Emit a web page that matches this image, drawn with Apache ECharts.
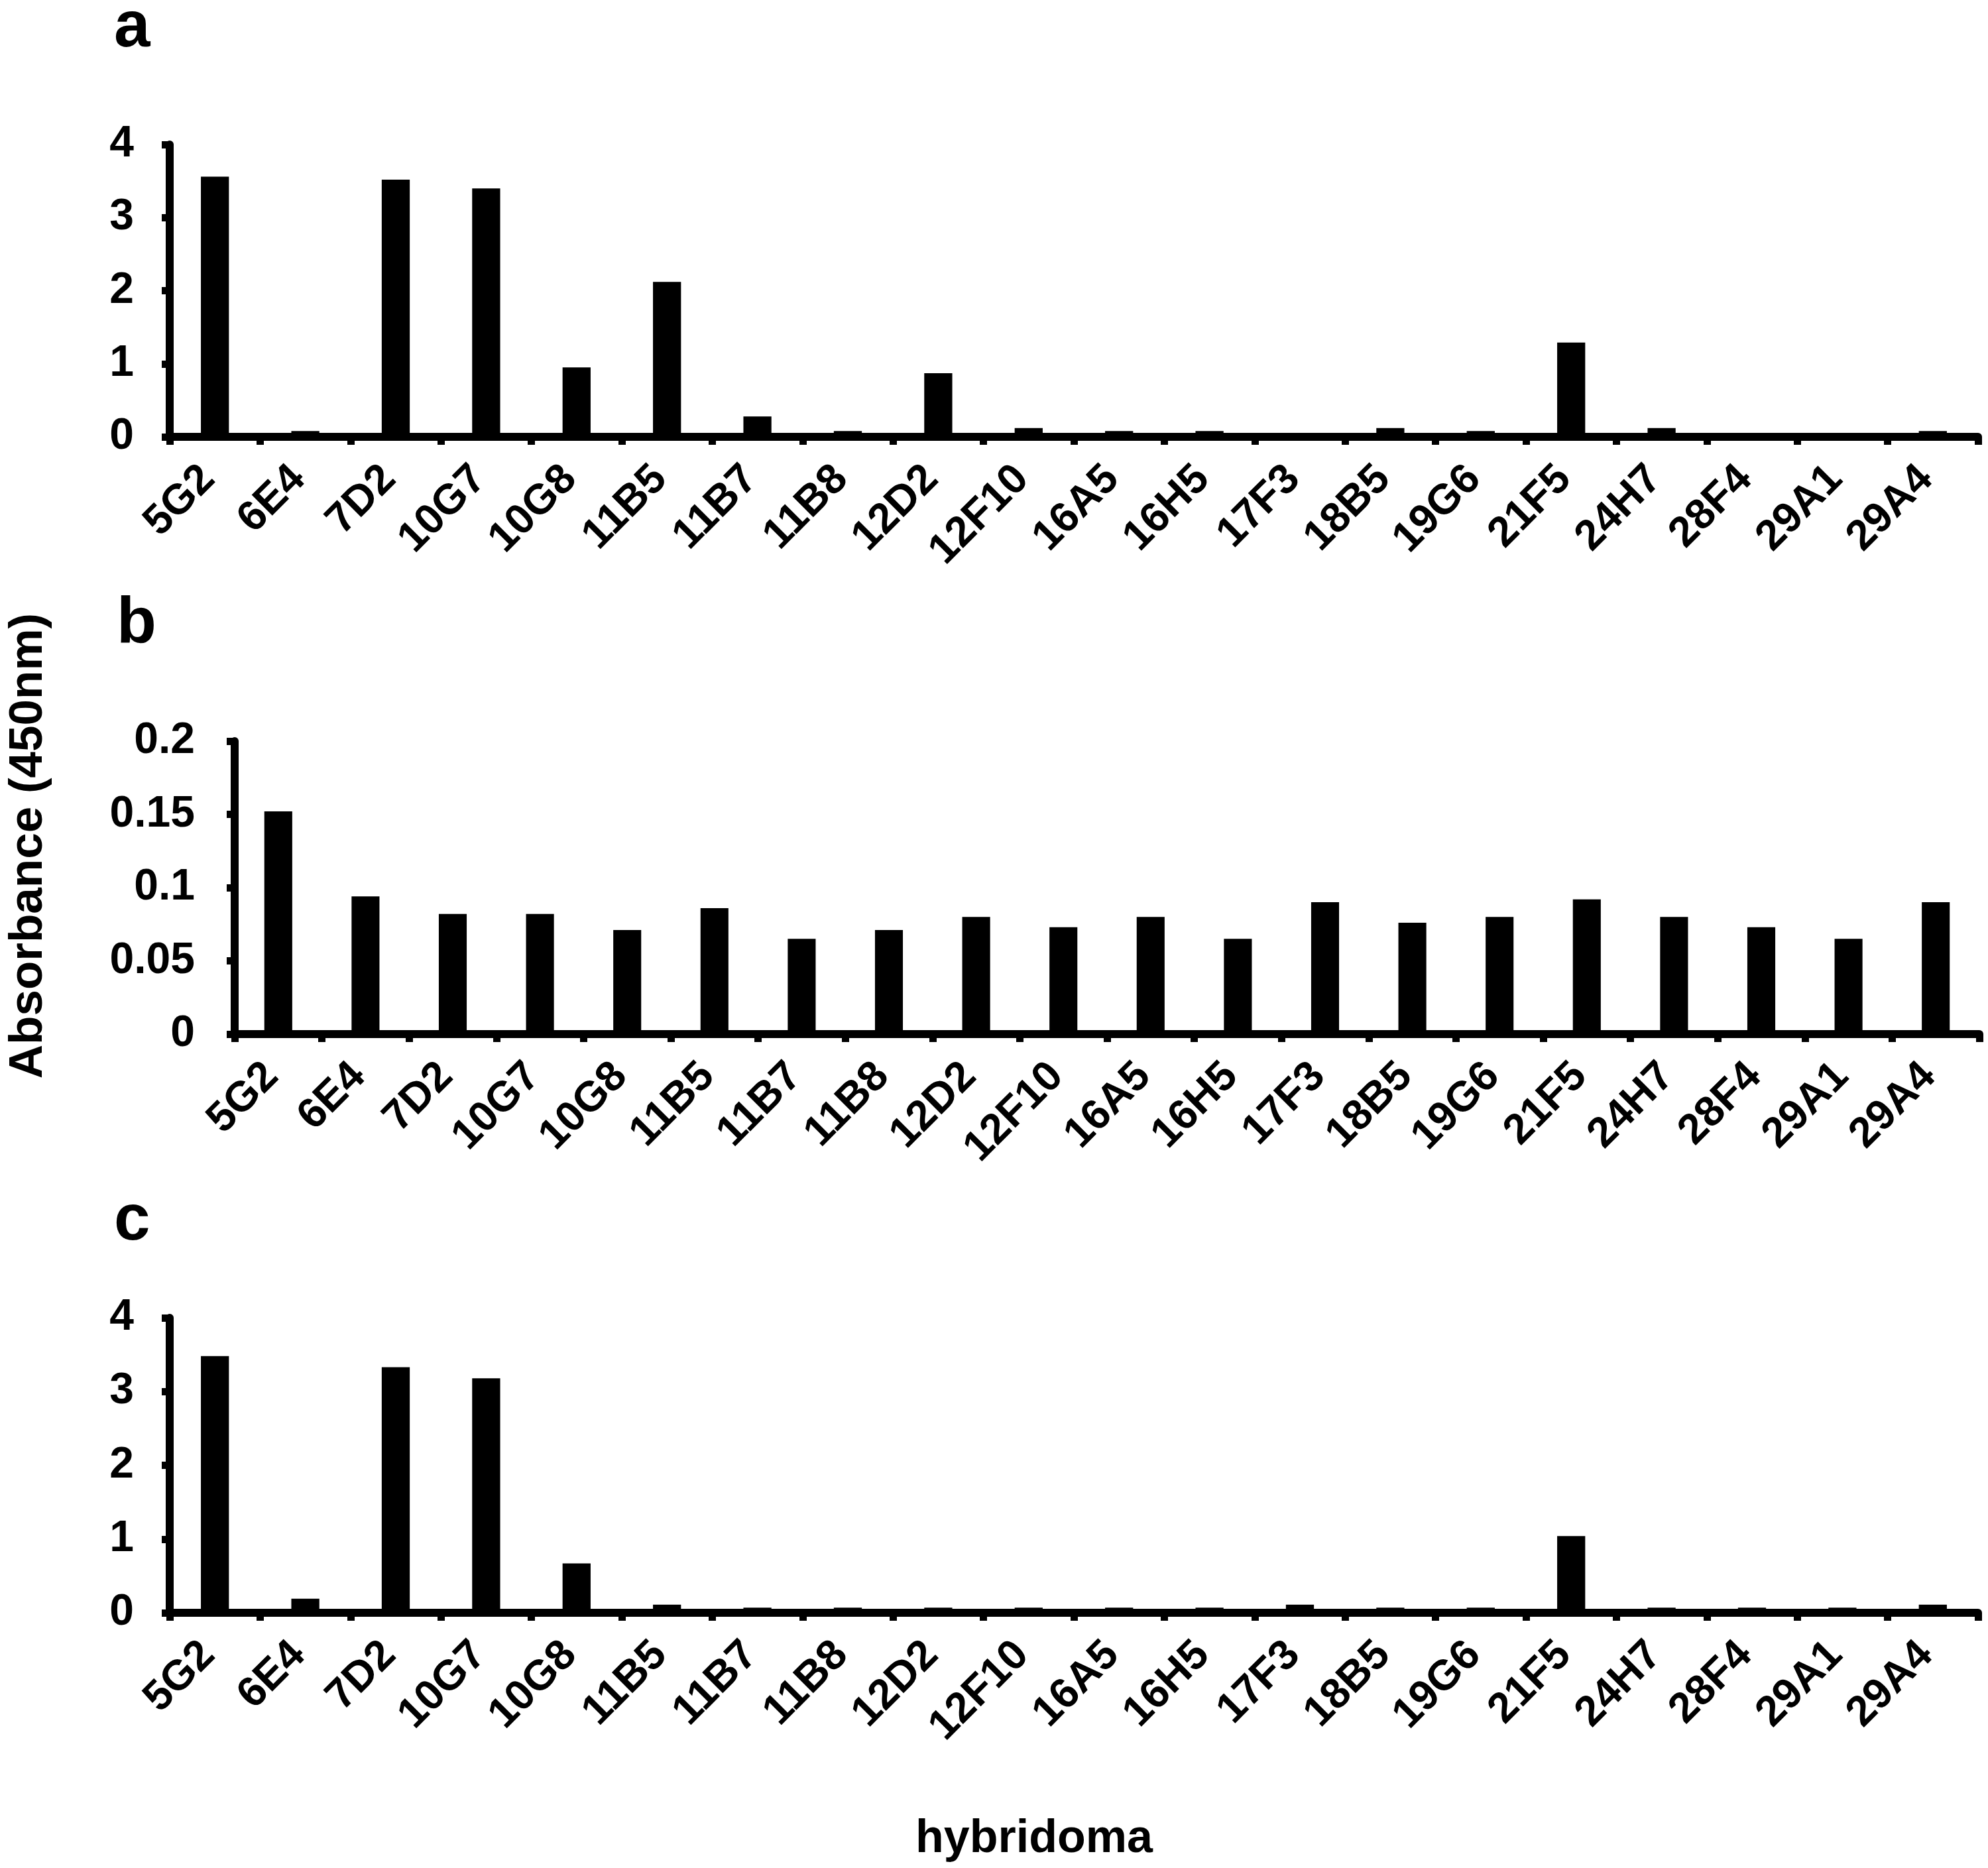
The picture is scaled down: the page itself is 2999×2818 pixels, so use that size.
<!DOCTYPE html>
<html>
<head>
<meta charset="utf-8">
<script src="https://cdn.jsdelivr.net/npm/echarts@6/dist/echarts.min.js"></script>
<style>
html,body{margin:0;padding:0;background:#fff;}
#chart{width:2999px;height:2818px;}
</style>
</head>
<body>
<div id="chart"></div>
<script>
var categories = ['5G2','6E4','7D2','10G7','10G8','11B5','11B7','11B8','12D2','12F10','16A5','16H5','17F3','18B5','19G6','21F5','24H7','28F4','29A1','29A4'];
var panelA = [3.56, 0.08, 3.52, 3.40, 0.95, 2.12, 0.28, 0.08, 0.87, 0.12, 0.08, 0.08, 0.03, 0.12, 0.08, 1.29, 0.12, 0.03, 0.03, 0.08];
var panelB = [0.152, 0.094, 0.082, 0.082, 0.071, 0.086, 0.065, 0.071, 0.080, 0.073, 0.080, 0.065, 0.090, 0.076, 0.080, 0.092, 0.080, 0.073, 0.065, 0.090];
var panelC = [3.48, 0.19, 3.33, 3.18, 0.67, 0.11, 0.07, 0.07, 0.07, 0.07, 0.07, 0.07, 0.11, 0.07, 0.07, 1.04, 0.07, 0.07, 0.07, 0.11];
var panelLetters = ['a', 'b', 'c'];
var yTitle = 'Absorbance (450nm)';
var xTitle = 'hybridoma';

var FONT = '"Liberation Sans", Arial, Helvetica, sans-serif';
var chart = echarts.init(document.getElementById('chart'), null, {renderer: 'canvas'});

function xAxisCfg(gridIndex) {
  return {
    type: 'category', gridIndex: gridIndex, data: categories, boundaryGap: true,
    axisLine: {show: true, lineStyle: {color: '#000', width: 12}},
    axisTick: {show: true, inside: false, length: 12, lineStyle: {color: '#000', width: 11}, interval: 0},
    axisLabel: {interval: 0, rotate: 45, margin: 44, padding: [0, 14, 0, 0], color: '#000', fontSize: 64, fontWeight: 'bold', fontFamily: FONT},
    splitLine: {show: false}
  };
}
function yAxisCfg(gridIndex, max, interval, margin) {
  return {
    type: 'value', gridIndex: gridIndex, min: 0, max: max, interval: interval,
    axisLine: {show: true, lineStyle: {color: '#000', width: 12}},
    axisTick: {show: true, inside: false, length: 12, lineStyle: {color: '#000', width: 11}},
    axisLabel: {margin: margin, color: '#000', fontSize: 66, fontWeight: 'bold', fontFamily: FONT, padding: [0, 0, 16, 0]},
    splitLine: {show: false}
  };
}
function barCfg(idx, data, w) {
  return {
    type: 'bar', xAxisIndex: idx, yAxisIndex: idx, data: data, barWidth: w,
    itemStyle: {color: '#000'}, animation: false, z: 1
  };
}

var option = {
  backgroundColor: '#fff',
  animation: false,
  grid: [
    {left: 256, top: 218, width: 2728, height: 441},
    {left: 354, top: 1118, width: 2632, height: 442},
    {left: 256, top: 1988, width: 2728, height: 445}
  ],
  xAxis: [xAxisCfg(0), xAxisCfg(1), xAxisCfg(2)],
  yAxis: [yAxisCfg(0, 4, 1, 54), yAxisCfg(1, 0.2, 0.05, 60), yAxisCfg(2, 4, 1, 54)],
  series: [barCfg(0, panelA, '31%'), barCfg(1, panelB, '32%'), barCfg(2, panelC, '31%')],
  graphic: [
    {type: 'text', left: 172, top: -6, style: {text: panelLetters[0], font: 'bold 98px ' + FONT, fill: '#000'}},
    {type: 'text', left: 176, top: 893, style: {text: panelLetters[1], font: 'bold 98px ' + FONT, fill: '#000'}},
    {type: 'text', left: 172, top: 1794, style: {text: panelLetters[2], font: 'bold 98px ' + FONT, fill: '#000'}},
    {type: 'text', x: 43, y: 1276, rotation: Math.PI / 2,
     style: {text: yTitle, font: 'bold 71px ' + FONT, fill: '#000', textAlign: 'center', textVerticalAlign: 'middle'}},
    {type: 'text', x: 1560, y: 2775,
     style: {text: xTitle, font: 'bold 70px ' + FONT, fill: '#000', textAlign: 'center', textVerticalAlign: 'middle'}}
  ]
};
chart.setOption(option);
</script>
</body>
</html>
